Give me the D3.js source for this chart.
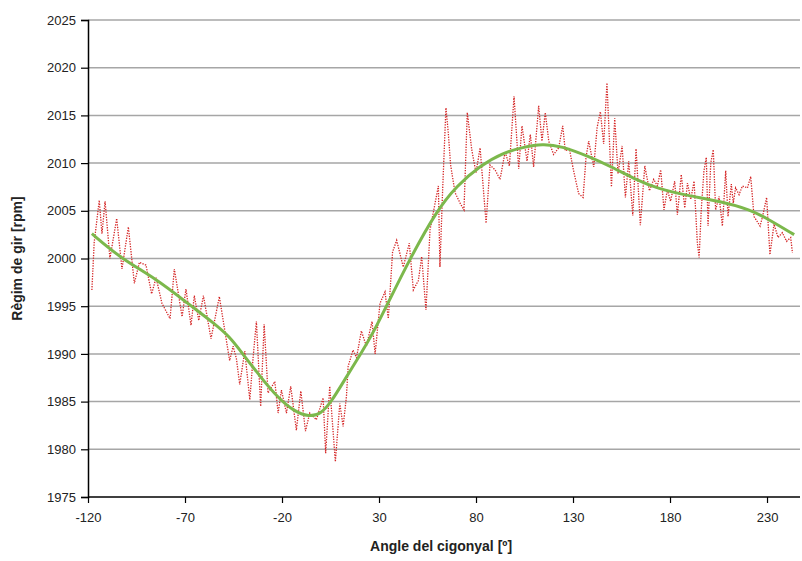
<!DOCTYPE html>
<html>
<head>
<meta charset="utf-8">
<script src="https://cdn.jsdelivr.net/npm/d3@7"></script>
<style>
  body { margin: 0; background: #fff; }
  text { font-family: "Liberation Sans Narrow", "Liberation Sans", Arial, sans-serif; }
</style>
</head>
<body>
<div class="canvas"></div>
<script>
const measAngle = [
  -118, -116.8, -114.2, -112.8, -111.2, -108.7, -105.2, -102.5, -99.2, -96.1,
  -93.5, -90.1, -87.2, -84.9, -81.9, -77.7, -75.5, -71.5, -69.5, -66.9,
  -65.2, -62.9, -60.5, -56.6, -52.3, -47, -45.2, -43.5, -41.8, -39.2,
  -36.6, -34.9, -33.2, -31, -29.2, -27.2, -23.7, -22, -20.3, -17.7,
  -15.5, -12.6, -10.3, -7.9, -5.7, -2.3, 1.2, 2.5, 4.6, 7.5,
  9.8, 11.5, 13.2, 14.1, 16.6, 18.4, 20.9, 23.5, 26.4, 28,
  30.5, 33.1, 34.8, 37, 39.1, 42.5, 45.6, 47.7, 50.3, 52,
  54.2, 56.3, 58.9, 60.6, 61.4, 62.8, 64.5, 65.7, 66.9, 69.2,
  71.8, 73.8, 75.5, 77.8, 80, 82.1, 85.2, 87.2, 89.8, 92.4,
  95, 97.2, 99.6, 102, 103.7, 106.3, 108, 109.7, 112.3, 114,
  115.7, 117.5, 120, 122.6, 124.7, 126, 128.1, 130.3, 132.9, 135.2,
  136.7, 138.1, 140.7, 142.4, 144.1, 145.8, 147.5, 149.8, 151.5, 153.2,
  155.3, 157, 158.7, 160.8, 162.5, 164.7, 167, 169.4, 171.6, 173.5,
  175.2, 176.9, 178.6, 180.3, 182.4, 183.8, 185.8, 187.6, 189, 190.7,
  192.4, 194.1, 195, 196.1, 197.5, 198.7, 199.6, 201, 202.3, 203.5,
  205.3, 207, 208.7, 209.9, 211.6, 212.6, 213.8, 215.6, 217.3, 219.9,
  221.6, 223.3, 226.4, 227.6, 229.8, 231.5, 233.6, 235.7, 237.9, 240.1,
  242.2, 243.1
];
const measRpm = [
  1996.7, 2001.7, 2006.1, 2002.6, 2006.0, 2000.0, 2004.2, 1998.9, 2003.3, 1997.4,
  1999.6, 1999.3, 1996.3, 1998.0, 1995.3, 1993.7, 1998.9, 1993.9, 1996.8, 1993.0,
  1996.1, 1993.5, 1996.1, 1991.6, 1996.0, 1989.3, 1990.8, 1989.5, 1986.8, 1990.3,
  1985.2, 1989.6, 1993.4, 1984.5, 1993.1, 1985.9, 1987.1, 1983.8, 1986.2, 1983.8,
  1986.6, 1982.0, 1986.1, 1981.9, 1983.8, 1983.1, 1985.4, 1979.6, 1986.6, 1978.7,
  1984.8, 1982.4, 1985.5, 1988.7, 1990.4, 1989.6, 1992.4, 1990.8, 1993.4, 1990.0,
  1995.3, 1996.5, 1993.7, 2000.7, 2001.9, 1999.1, 2001.6, 1996.7, 1997.7, 2000.2,
  1994.6, 2003.0, 2005.8, 2007.6, 1999.1, 2007.2, 2015.8, 2013.2, 2009.8, 2006.9,
  2005.8, 2005.1, 2015.3, 2011.4, 2009.0, 2011.6, 2003.7, 2009.8, 2009.3, 2008.3,
  2011.2, 2009.7, 2017.0, 2009.4, 2013.9, 2010.2, 2013.0, 2009.6, 2016.0, 2012.3,
  2015.3, 2012.3, 2010.9, 2011.6, 2013.9, 2011.3, 2011.5, 2009.2, 2006.8, 2006.4,
  2010.6, 2012.3, 2009.6, 2013.7, 2015.4, 2012.0, 2018.4, 2007.5, 2014.7, 2008.9,
  2011.8, 2006.4, 2010.2, 2004.5, 2011.5, 2003.5, 2009.7, 2007.1, 2008.3, 2007.6,
  2009.3, 2005.1, 2007.2, 2006.0, 2008.1, 2004.6, 2008.8, 2005.3, 2007.9, 2006.2,
  2008.1, 2001.6, 2000.1, 2005.1, 2009.2, 2010.6, 2003.4, 2010.0, 2011.4, 2005.1,
  2006.5, 2003.4, 2009.2, 2004.4, 2007.8, 2005.8, 2007.4, 2006.7, 2007.6, 2007.4,
  2008.6, 2004.4, 2003.4, 2004.3, 2006.4, 2000.4, 2003.6, 2002.2, 2002.7, 2001.8,
  2002.2, 2000.6
];

// smoothed speed (green)
const fitAngle = [
  -118, -103, -85, -68, -55, -47, -41, -30, -22, -14,
  -6, 0, 5.5, 12.3, 20.9, 27.5, 34.8, 46, 59.7, 70,
  82, 94, 105, 114, 124, 138, 150, 162, 174, 189,
  206, 221.6, 230, 244
];
const fitRpm = [
  2002.6, 2000.0, 1997.9, 1995.2, 1993.2, 1991.8, 1990.2, 1987.3, 1985.4, 1984.0,
  1983.4, 1983.7, 1985.0, 1987.3, 1990.1, 1992.4, 1995.4, 2000.0, 2005.0, 2007.6,
  2009.7, 2011.1, 2011.7, 2012.0, 2011.8, 2010.7, 2009.6, 2008.3, 2007.3, 2006.6,
  2006.0, 2005.1, 2004.2, 2002.5
];

const xTicks = [-120, -70, -20, 30, 80, 130, 180, 230];
const yTicks = [1975, 1980, 1985, 1990, 1995, 2000, 2005, 2010, 2015, 2020, 2025];

const margin = { top: 20, right: 2, bottom: 64, left: 88 };
const width = 802;
const height = 561;
const graphWidth = width - margin.left - margin.right;
const graphHeight = height - margin.top - margin.bottom;

const svg = d3
  .select(".canvas")
  .append("svg")
  .attr("width", width)
  .attr("height", height);

const graph = svg
  .append("g")
  .attr("transform", `translate(${margin.left}, ${margin.top})`);

const x = d3.scaleLinear().domain([-120, 247]).range([0, graphWidth]);
const y = d3.scaleLinear().domain([1975, 2025]).range([graphHeight, 0]);

// gridlines
graph
  .append("g")
  .selectAll("line")
  .data(yTicks.slice(1))
  .enter()
  .append("line")
  .attr("x1", 0)
  .attr("x2", graphWidth)
  .attr("y1", (d) => y(d))
  .attr("y2", (d) => y(d))
  .attr("stroke", "#a6a6a6")
  .attr("stroke-width", 1.5);

// axes
const xAxis = d3.axisBottom(x).tickValues(xTicks).tickSize(6).tickFormat((d) => String(d));
const yAxis = d3.axisLeft(y).tickValues(yTicks).tickSize(7).tickFormat((d) => String(d));

const xAxisGroup = graph
  .append("g")
  .attr("transform", `translate(0, ${graphHeight})`)
  .call(xAxis);
const yAxisGroup = graph.append("g").call(yAxis);

[xAxisGroup, yAxisGroup].forEach((g) => {
  g.select(".domain").attr("stroke", "#000").attr("stroke-width", 1.5);
  g.selectAll(".tick line").attr("stroke", "#000").attr("stroke-width", 1.2);
  g.selectAll("text").attr("fill", "#222").style("font-size", "13px");
});
xAxisGroup.select(".domain").attr("d", `M0,0H${graphWidth}`);
xAxisGroup.selectAll("text").attr("dy", "1.2em");
yAxisGroup.selectAll("text").attr("x", -12);

const measData = measAngle.map((a, i) => ({ a, v: measRpm[i] }));
const fitData = fitAngle.map((a, i) => ({ a, v: fitRpm[i] }));

// measured line
graph
  .append("path")
  .datum(measData)
  .attr("fill", "none")
  .attr("stroke", "#d42424")
  .attr("stroke-width", 1.3)
  .attr("stroke-dasharray", "1.3,1.3")
  .attr("d", d3.line().x((d) => x(d.a)).y((d) => y(d.v)));

// fitted curve
graph
  .append("path")
  .datum(fitData)
  .attr("fill", "none")
  .attr("stroke", "#7cb84c")
  .attr("stroke-width", 3)
  .attr("d", d3.line().curve(d3.curveBasis).x((d) => x(d.a)).y((d) => y(d.v)));

// axis titles
svg
  .append("text")
  .attr("x", margin.left + x(62))
  .attr("y", 551)
  .attr("text-anchor", "middle")
  .style("font-size", "14px")
  .style("font-weight", "bold")
  .attr("fill", "#222")
  .text("Angle del cigonyal [º]");

svg
  .append("text")
  .attr("transform", `translate(22, ${margin.top + graphHeight / 2}) rotate(-90)`)
  .attr("text-anchor", "middle")
  .style("font-size", "14px")
  .style("font-weight", "bold")
  .attr("fill", "#222")
  .text("Règim de gir [rpm]");
</script>
</body>
</html>
